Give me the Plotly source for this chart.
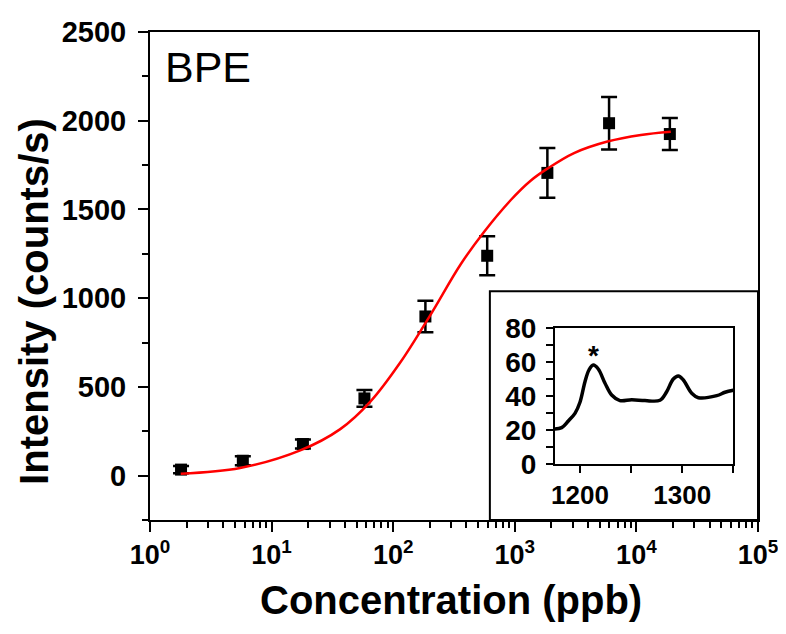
import plotly.graph_objects as go

# ---- main data ----
conc = [1.8, 5.8, 18.1, 58, 184, 593, 1853, 5960, 18840]
intensity = [34, 84, 178, 435, 897, 1239, 1706, 1986, 1925]
err = [20, 25, 25, 47, 89, 110, 140, 148, 90]

# fitted (logistic) curve
fit_x = [1.79, 5.51, 17.2, 36.7, 64.9, 115, 202, 358, 556, 923, 1349,
         1853, 3069, 5780, 10890, 19190]
fit_y = [11, 43, 142, 262, 417, 640, 905, 1190, 1372, 1552, 1662,
         1730, 1818, 1883, 1920, 1938]

# ---- inset spectrum ----
shift = [1175.5, 1182.1, 1188.6, 1195.1, 1200, 1204.9, 1208.8, 1213, 1217.9,
         1224.5, 1231, 1239.1, 1250.6, 1263.6, 1278.3, 1284.8, 1291.3, 1296.2,
         1301.1, 1309.3, 1315.8, 1333.8, 1341.9, 1350]
spec = [20.6, 21.4, 25.3, 29.8, 36.3, 48.4, 55.3, 58.2, 55.9, 47.5, 40.6, 37.3,
        37.8, 37.3, 37.5, 42.5, 50, 51.8, 49.4, 41.6, 39, 40.2, 42.2, 43.4]

x_tickvals = [1, 10, 100, 1000, 10000, 100000]
x_ticktext = ["10<sup>0</sup>", "10<sup>1</sup>", "10<sup>2</sup>",
              "10<sup>3</sup>", "10<sup>4</sup>", "10<sup>5</sup>"]

FONT = "Liberation Sans"

fig = go.Figure()

fig.add_trace(go.Scatter(
    x=conc, y=intensity, mode="markers",
    marker=dict(symbol="square", size=12, color="black"),
    error_y=dict(type="data", array=err, visible=True, color="black",
                 thickness=2.5, width=8),
    xaxis="x", yaxis="y", showlegend=False))

fig.add_trace(go.Scatter(
    x=fit_x, y=fit_y, mode="lines", line=dict(color="red", width=2.5, shape="spline"),
    xaxis="x", yaxis="y", showlegend=False))

fig.add_trace(go.Scatter(
    x=shift, y=spec, mode="lines", line=dict(color="black", width=3.5, shape="spline"),
    xaxis="x2", yaxis="y2", showlegend=False))

axis_common = dict(showline=True, linewidth=2, linecolor="black", mirror=True,
                   ticks="outside", tickwidth=2, tickcolor="black",
                   showgrid=False, zeroline=False, automargin=False)

fig.update_layout(
    width=786, height=634,
    margin=dict(l=142, r=36, t=24, b=122),
    paper_bgcolor="white", plot_bgcolor="white",
    font=dict(family=FONT, color="black"),
    xaxis=dict(type="log", range=[0, 5], domain=[0, 1], anchor="y",
               tickmode="array", tickvals=x_tickvals, ticktext=x_ticktext,
               ticklen=10,
               tickfont=dict(size=27, family=FONT, weight="bold"),
               minor=dict(ticks="outside", ticklen=6, tickwidth=2, dtick="D1",
                          tickcolor="black", showgrid=False),
               **axis_common),
    yaxis=dict(range=[-250, 2500], domain=[0, 1], anchor="x",
               tickmode="linear", tick0=0, dtick=500, ticklen=10,
               ticklabelstandoff=6,
               tickfont=dict(size=29, family=FONT, weight="bold"),
               minor=dict(ticks="outside", ticklen=6, tickwidth=2, dtick=250,
                          tick0=0, tickcolor="black", showgrid=False),
               **axis_common),
    xaxis2=dict(range=[1175.5, 1350], domain=[0.666, 0.9594], anchor="y2",
                tickmode="array", tickvals=[1200, 1300], ticklen=7,
                tickfont=dict(size=26, family=FONT, weight="bold"),
                minor=dict(ticks="outside", ticklen=7, tickwidth=2, dtick=50,
                           tick0=1200, tickcolor="black", showgrid=False),
                **axis_common),
    yaxis2=dict(range=[0, 80], domain=[0.1148, 0.3934], anchor="x2",
                tickmode="linear", tick0=0, dtick=20, ticklen=7,
                ticklabelstandoff=4,
                tickfont=dict(size=28, family=FONT, weight="bold"),
                minor=dict(ticks="outside", ticklen=7, tickwidth=2, dtick=10,
                           tick0=0, tickcolor="black", showgrid=False),
                **axis_common),
    shapes=[dict(type="rect", xref="paper", yref="paper",
                 x0=0.559, x1=1.0, y0=0.0, y1=0.469,
                 line=dict(color="black", width=2), fillcolor="white",
                 layer="below")],
    annotations=[
        dict(text="BPE", xref="paper", yref="paper", x=0.0214, y=0.928,
             xanchor="left", yanchor="middle", showarrow=False,
             font=dict(size=43, family=FONT, color="black")),
        dict(text="*", xref="x2", yref="y2", x=1213, y=64,
             xanchor="center", yanchor="middle", showarrow=False,
             font=dict(size=28, family=FONT, color="black", weight="bold")),
        dict(text="Concentration (ppb)", xref="paper", yref="paper",
             x=0.495, y=-0.164, xanchor="center", yanchor="middle",
             showarrow=False,
             font=dict(size=40, family=FONT, color="black", weight="bold")),
        dict(text="Intensity (counts/s)", xref="paper", yref="paper",
             x=-0.1908, y=0.449, xanchor="center", yanchor="middle",
             textangle=-90, showarrow=False,
             font=dict(size=40, family=FONT, color="black", weight="bold")),
    ],
)

fig.write_html("out.html")
